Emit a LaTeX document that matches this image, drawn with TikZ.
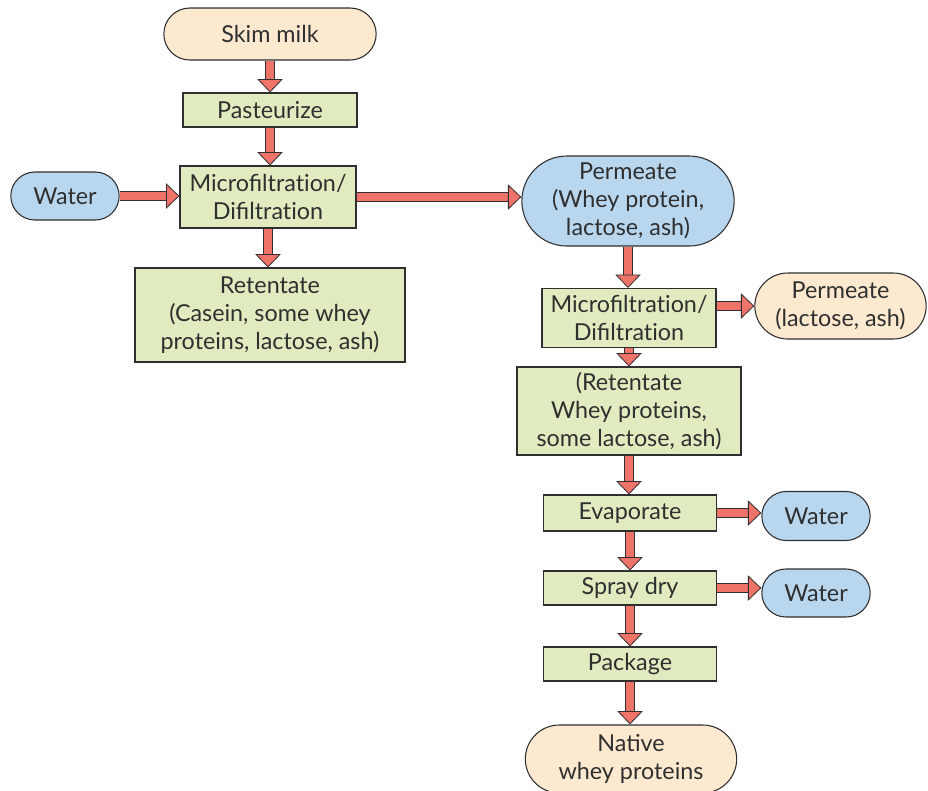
\documentclass[tikz,border=0pt]{standalone}
\usepackage{fontspec}
\setmainfont{Lato}
\usetikzlibrary{arrows.meta,shapes.misc}
\definecolor{peach}{HTML}{FDE9D0}
\definecolor{leaf}{HTML}{E0EBC0}
\definecolor{sky}{HTML}{B8D6EE}
\definecolor{arrowc}{HTML}{F0736A}
\definecolor{edgec}{HTML}{2F2F2F}
\tikzset{
  base/.style={draw=edgec, line width=0.8pt, align=center, inner sep=1pt, text=edgec,
    font=\fontsize{17.5}{21}\selectfont},
  sz/.style 2 args={minimum width=#1*0.75pt, minimum height=#2*0.75pt},
  stepbox/.style={base, rectangle, fill=leaf},
  pillo/.style={base, rounded rectangle, fill=peach},
  pillb/.style={base, rounded rectangle, fill=sky},
  flow/.style={preaction={draw=edgec, line width=7pt, shorten >=9pt, -},
    draw=arrowc, line width=5.4pt,
    -{Triangle[length=10pt, width=19pt, line width=0.6pt, color=edgec, fill=arrowc]}}
}
\begin{document}
\begin{tikzpicture}[x=0.75pt,y=-0.75pt]
\useasboundingbox (0,0) rectangle (928,790);
\node[pillo, sz={215}{52}] (skim) at (270,34) {Skim milk};
\node[stepbox, sz={174}{34}] (past) at (270,110) {Pasteurize};
\node[stepbox, sz={176}{62}] (mf1) at (268,197) {Microfiltrat\kern0pt ion/\\Difiltrat\kern0pt ion};
\node[pillb, sz={111}{48}] (water1) at (65,196) {Water};
\node[stepbox, sz={270}{94}] (ret1) at (270,315) {Retentate\\(Casein, some whey\\proteins, lactose, ash)};
\node[pillb, sz={215}{90}] (perm1) at (628,201) {Permeate\\(Whey protein,\\lactose, ash)};
\node[stepbox, sz={174}{59}] (mf2) at (629,318) {Microfiltrat\kern0pt ion/\\Difiltrat\kern0pt ion};
\node[pillo, sz={174}{66}] (perm2) at (840.5,306) {Permeate\\(lactose, ash)};
\node[stepbox, sz={224}{88}] (ret2) at (629,411) {(Retentate\\Whey proteins,\\some lactose, ash)};
\node[stepbox, sz={173}{36}] (evap) at (630,513) {Evaporate};
\node[pillb, sz={111}{49}] (water2) at (816,516) {Water};
\node[stepbox, sz={173}{34}] (spray) at (630,588) {Spray dry};
\node[pillb, sz={111}{48}] (water3) at (816,593) {Water};
\node[stepbox, sz={173}{34}] (pack) at (630,664) {Package};
\node[pillo, sz={214}{68}] (native) at (631,759) {Native\\whey proteins};

\draw[flow] (skim.south) -- (past.north);
\draw[flow] (past.south) -- (mf1.north -| past.south);
\draw[flow] (water1.east) -- (water1.east -| mf1.west);
\draw[flow] (mf1.south) -- (ret1.north -| mf1.south);
\draw[flow] (mf1.east) -- (mf1.east -| perm1.west);
\draw[flow] (perm1.south) -- (mf2.north -| perm1.south);
\draw[flow] (mf2.east |- perm2.west) -- (perm2.west);
\draw[flow] (mf2.south) -- (ret2.north -| mf2.south);
\draw[flow] (ret2.south) -- (evap.north -| ret2.south);
\draw[flow] (evap.east) -- (evap.east -| water2.west);
\draw[flow] (evap.south) -- (spray.north -| evap.south);
\draw[flow] (spray.east) -- (spray.east -| water3.west);
\draw[flow] (spray.south) -- (pack.north -| spray.south);
\draw[flow] (pack.south) -- (native.north -| pack.south);
\end{tikzpicture}
\end{document}
